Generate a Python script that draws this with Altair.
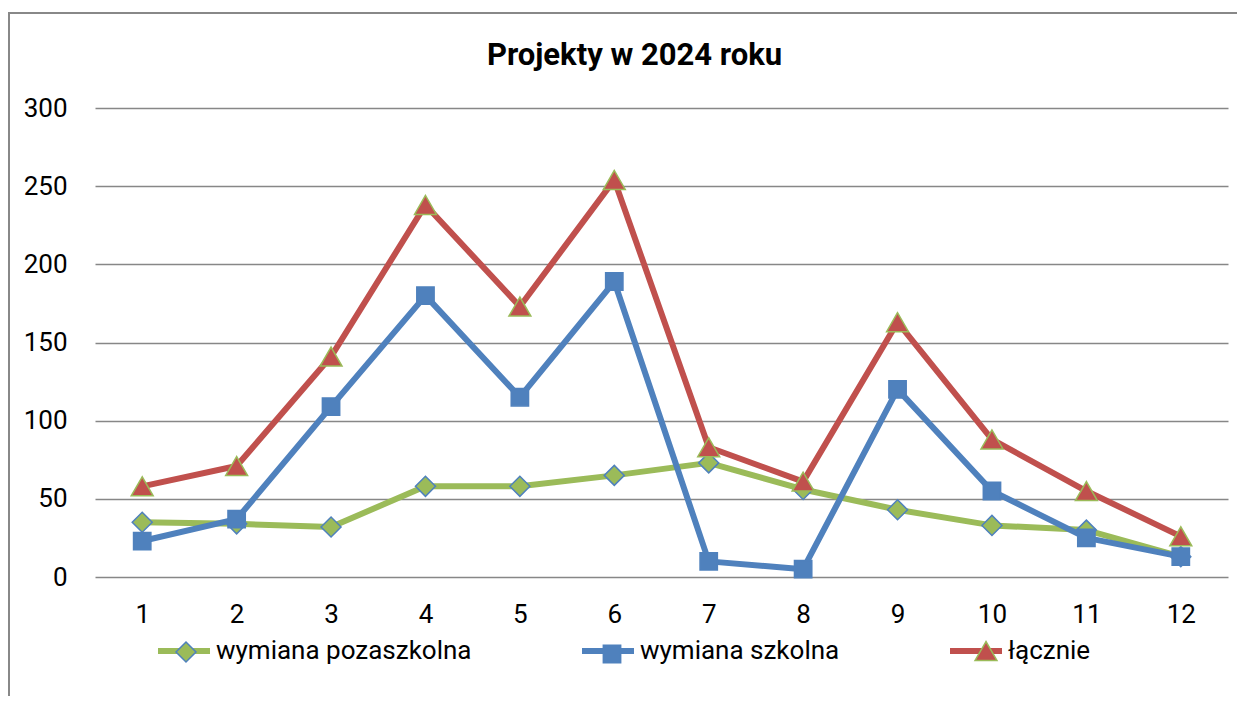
import altair as alt
import pandas as pd

# ---- data ----
months = list(range(1, 13))
series_names = ["wymiana pozaszkolna", "wymiana szkolna", "łącznie"]
pozaszkolna = [35, 34, 32, 58, 58, 65, 73, 56, 43, 33, 30, 13]
szkolna = [23, 37, 109, 180, 115, 189, 10, 5, 120, 55, 25, 13]
lacznie = [58, 71, 141, 238, 173, 254, 83, 61, 163, 88, 55, 26]
y_ticks = [0, 50, 100, 150, 200, 250, 300]
chart_title = "Projekty w 2024 roku"

# ---- styles ----
line_colors = ["#9BBB59", "#4F81BD", "#C0504D"]
outline_colors = ["#4F81BD", "#4F81BD", "#9BBB59"]
shapes = ["diamond", "square", "triangle-up"]
marker_sizes = [400, 300, 480]
FONT = "Roboto"
FS = 26
GRID = "#878787"

# legend layout (pixels relative to the plot area)
LEG_X = 60
LEG_Y = 514
marker_leg_x = [78, 504, 878]
marker_leg_y = [531, 533, 530]

rows = []
for name, vals in zip(series_names, [pozaszkolna, szkolna, lacznie]):
    for m, v in zip(months, vals):
        rows.append({"miesiac": m, "wartosc": v, "seria": name, "znacznik": name})
df = pd.DataFrame(rows)

x_enc = alt.X(
    "miesiac:O",
    scale=alt.Scale(type="point", padding=0.5),
    axis=alt.Axis(title=None, labelAngle=0, ticks=False, domain=False,
                  labelPadding=24, labelFont=FONT, labelFontSize=FS,
                  labelColor="#000000", grid=False),
)
y_enc = alt.Y(
    "wartosc:Q",
    scale=alt.Scale(domain=[0, 300], nice=False, zero=True),
    axis=alt.Axis(title=None, values=y_ticks, ticks=False, domain=False,
                  labelPadding=28, labelFont=FONT, labelFontSize=FS,
                  labelColor="#000000", grid=True, gridColor=GRID, gridWidth=1.5),
)

legend_lines = alt.Legend(
    orient="none", legendX=LEG_X, legendY=LEG_Y, direction="horizontal",
    title=None, symbolType="stroke", symbolSize=2704, symbolStrokeWidth=6,
    labelFont=FONT, labelFontSize=FS, labelColor="#000000", labelOffset=3,
    columnPadding=98, padding=0, labelLimit=0,
)
color_scale = alt.Scale(domain=series_names, range=line_colors)

base = alt.Chart(df)
layers = []
for i, name in enumerate(series_names):
    sub = base.transform_filter(alt.datum.seria == name)
    line = sub.mark_line(strokeWidth=6, strokeJoin="round", strokeCap="round").encode(
        x=x_enc, y=y_enc,
        color=alt.Color("seria:N", scale=color_scale, legend=legend_lines),
    )
    leg_pts = alt.Legend(
        orient="none", legendX=marker_leg_x[i], legendY=marker_leg_y[i],
        title=None, symbolSize=marker_sizes[i], symbolStrokeWidth=1.5,
        labelExpr="''", labelFontSize=FS, padding=0,
    )
    pts = sub.mark_point(filled=True, strokeWidth=1.5, opacity=1, size=marker_sizes[i]).encode(
        x=x_enc, y=y_enc,
        fill=alt.Fill("znacznik:N", scale=alt.Scale(domain=[name], range=[line_colors[i]]), legend=leg_pts),
        stroke=alt.Stroke("znacznik:N", scale=alt.Scale(domain=[name], range=[outline_colors[i]]), legend=leg_pts),
        shape=alt.Shape("znacznik:N", scale=alt.Scale(domain=[name], range=[shapes[i]]), legend=leg_pts),
    )
    layers += [line, pts]

border = alt.Chart(pd.DataFrame({"k": [0]})).mark_rect(
    fillOpacity=0, stroke="#888888", strokeWidth=2
).encode(x=alt.value(-86), x2=alt.value(1160), y=alt.value(-95), y2=alt.value(700))

chart = alt.layer(border, *layers).resolve_scale(
    fill="independent", stroke="independent", shape="independent"
).properties(
    width=1133,
    height=469,
    padding={"left": 87, "top": 100, "right": 9, "bottom": 119},
    autosize=alt.AutoSizeParams(type="none"),
    background="#ffffff",
    title=alt.Title(chart_title, font=FONT, fontSize=31, fontWeight="bold",
                    color="#000000", anchor="middle", frame="group",
                    baseline="alphabetic", offset=-84, dx=-27),
).configure_view(strokeWidth=0)

chart.save("out.html", embed_options={"renderer": "svg", "actions": False})
